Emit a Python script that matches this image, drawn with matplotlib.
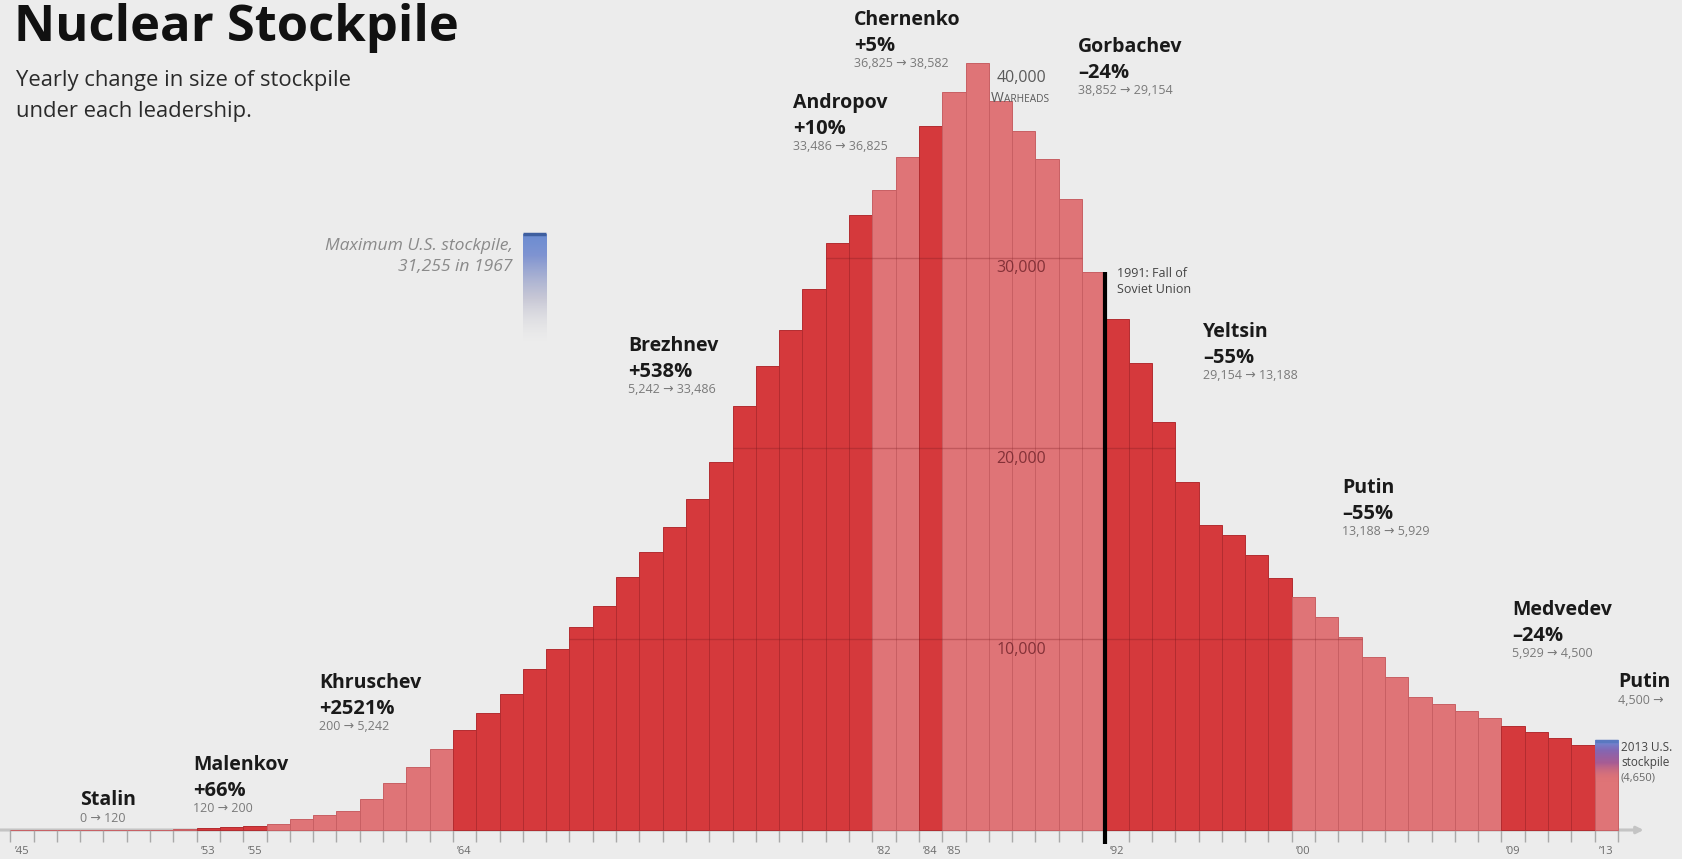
import numpy as np
import matplotlib.pyplot as plt

# Soviet / Russian warhead stockpile, one bar per year
years = list(range(1945, 2014))
warheads = [0, 0, 0, 0, 1, 5, 25, 50,                          # 1945-1952
            120, 150, 200,                                     # 1953-1955
            300, 560, 790, 1010, 1610, 2480, 3320, 4230,       # 1956-1963
            5240, 6120, 7110, 8420, 9470, 10660, 11740, 13280,
            14590, 15900, 17330, 19270, 22220, 24320, 26200,
            28340, 30750, 32230,                               # 1964-1981
            33540, 35260,                                      # 1982-1983
            36900,                                             # 1984
            38700, 40220, 38230, 36640, 35170, 33050, 29230,   # 1985-1991
            26780, 24460, 21380, 18220, 15990, 15460, 14410,
            13220,                                             # 1992-1999
            12200, 11150, 10100, 9070, 8040, 6990, 6600, 6240,
            5890,                                              # 2000-2008
            5470, 5150, 4800, 4450,                            # 2009-2012
            4500]                                              # 2013

leaders = ['Stalin', 'Malenkov', 'Khruschev', 'Brezhnev', 'Andropov', 'Chernenko',
           'Gorbachev', 'Yeltsin', 'Putin', 'Medvedev', 'Putin']
leader_start = [1945, 1953, 1956, 1964, 1982, 1984, 1985, 1992, 2000, 2009, 2013]
leader_pct = ['', '+66%', '+2521%', '+538%', '+10%', '+5%', '–24%', '–55%', '–55%', '–24%', '']
leader_range = ['0 → 120', '120 → 200', '200 → 5,242', '5,242 → 33,486', '33,486 → 36,825',
                '36,825 → 38,582', '38,852 → 29,154', '29,154 → 13,188', '13,188 → 5,929',
                '5,929 → 4,500', '4,500 →']

grid_values = [10000, 20000, 30000]
tick_labels = {1945: "’45", 1953: "’53", 1955: "’55", 1964: "’64", 1982: "’82", 1984: "’84",
               1985: "’85", 1992: "’92", 2000: "’00", 2009: "’09", 2013: "’13"}

us_max_year, us_max = 1967, 31255
us_2013 = 4650

# label anchor (pixel x, baseline y of the name)
label_pos = [(80, 805), (193, 770), (319, 688), (628, 351), (793, 108), (854, 25),
             (1078, 52), (1203, 337), (1342, 493), (1512, 615), (1618, 687)]

W, H = 1683, 859
X0, PX_YR = 1944.558, 23.3
BG = '#ececec'
DARK, LIGHT = '#d5393c', '#df7477'
DARK_EDGE, LIGHT_EDGE = '#b32c30', '#c85f63'
FONT = ['Open Sans', 'DejaVu Sans']

plt.rcParams['font.family'] = FONT

fig = plt.figure(figsize=(W / 100, H / 100), dpi=100)
fig.patch.set_facecolor(BG)
ax = fig.add_axes([0, 0, 1, 1])
ax.set_facecolor(BG)
ax.axis('off')

# colour each year by leadership, alternating light / dark
colors, edges = [], []
for y in years:
    idx = max(i for i, s in enumerate(leader_start) if s <= y)
    dark = idx % 2 == 1
    colors.append(DARK if dark else LIGHT)
    edges.append(DARK_EDGE if dark else LIGHT_EDGE)

ax.bar(years, warheads, width=1, align='edge', color=colors, edgecolor=edges,
       linewidth=0.7, zorder=2)

# grid lines only across the bars
for g in grid_values:
    for y, v in zip(years, warheads):
        if v > g:
            ax.hlines(g, y, y + 1, color='#7a1a20', alpha=0.3, lw=1, zorder=3)
    ax.annotate(f'{g:,}', xy=(1988.4, g), xytext=(0, -2), textcoords='offset points',
                ha='center', va='top', fontsize=11.5, color='#7a2a31', alpha=0.9, zorder=4)
ax.annotate('40,000', xy=(1988.4, 40000), xytext=(0, -2), textcoords='offset points',
            ha='center', va='top', fontsize=11.5, color='#5a5a5a', zorder=4)
ax.annotate('W', xy=(X0 + 991 / PX_YR, 40000), xytext=(0, -17.5), textcoords='offset points',
            ha='left', va='top', fontsize=10, color='#5a5a5a')
ax.annotate('ARHEADS', xy=(X0 + 1004 / PX_YR, 40000), xytext=(0, -19.5),
            textcoords='offset points', ha='left', va='top', fontsize=7.3, color='#5a5a5a')

# maximum U.S. stockpile marker
grad = np.linspace(0, 1, 200)
img = np.zeros((200, 1, 4))
stops1 = [(0.0, (0.85, 0.85, 0.86, 0.0)), (0.4, (0.72, 0.72, 0.80, 0.7)),
          (0.8, (0.50, 0.58, 0.82, 1.0)), (1.0, (0.42, 0.55, 0.82, 1.0))]
for ch in range(4):
    img[:, 0, ch] = np.interp(grad, [s[0] for s in stops1], [s[1][ch] for s in stops1])
ax.imshow(img, extent=[us_max_year, us_max_year + 1, us_max - 5600, us_max],
          origin='lower', aspect='auto', zorder=3, interpolation='bilinear')
ax.hlines(us_max, us_max_year, us_max_year + 1, color='#3f5f9f', lw=2.5, zorder=4)

# 2013 U.S. stockpile overlay on the last bar
img2 = np.zeros((200, 1, 4))
stops = [(0.0, (0.87, 0.45, 0.46, 0.0)), (0.45, (0.62, 0.35, 0.60, 0.85)),
         (0.75, (0.52, 0.40, 0.70, 1.0)), (1.0, (0.42, 0.56, 0.85, 1.0))]
for ch in range(4):
    img2[:, 0, ch] = np.interp(grad, [s[0] for s in stops], [s[1][ch] for s in stops])
ax.imshow(img2, extent=[2013, 2014, 2500, us_2013], origin='lower', aspect='auto',
          zorder=3, interpolation='bilinear')
ax.hlines(us_2013, 2013, 2014, color='#5a78c0', lw=2.5, zorder=4)

# fall of the Soviet Union
ax.vlines(1992, -750, warheads[years.index(1991)], color='black', lw=3, zorder=5)

# time axis
ax.annotate('', xy=(2015.1, 0), xytext=(1944.5, 0),
            arrowprops=dict(arrowstyle='-|>', color='#c4c4c4', lw=2.2,
                            mutation_scale=10, shrinkA=0, shrinkB=0), zorder=1)
for y in range(1945, 2015):
    ax.vlines(y, -650, 0, color='#a9a9a9', lw=1, zorder=1)
for y, lab in tick_labels.items():
    ax.text(y + 0.5, -1120, lab, ha='center', va='center', fontsize=8, color='#6a6a6a')

ax.set_xlim(X0, X0 + W / PX_YR)
ax.set_ylim(-(H - 830) / 0.01908, 830 / 0.01908)


def fx(x):
    return x / W


def fy(y):
    return 1 - y / H


# title block
fig.text(fx(14), fy(41), 'Nuclear Stockpile', fontsize=36.5, fontweight='bold',
         color='#111111', va='baseline')
fig.text(fx(16), fy(86), 'Yearly change in size of stockpile', fontsize=15.8,
         color='#2a2a2a', va='baseline')
fig.text(fx(16), fy(117), 'under each leadership.', fontsize=15.8,
         color='#2a2a2a', va='baseline')

fig.text(fx(513), fy(250), 'Maximum U.S. stockpile,', fontsize=12.6, style='italic',
         color='#8a8a8a', ha='right', va='baseline')
fig.text(fx(513), fy(271), '31,255 in 1967', fontsize=12.6, style='italic',
         color='#8a8a8a', ha='right', va='baseline')

# leader labels
for name, pct, rng, (x, y) in zip(leaders, leader_pct, leader_range, label_pos):
    fig.text(fx(x), fy(y), name, fontsize=14, fontweight='bold', color='#1a1a1a',
             va='baseline')
    if pct:
        fig.text(fx(x), fy(y + 26), pct, fontsize=14.5, fontweight='bold', color='#1a1a1a',
                 va='baseline')
        fig.text(fx(x), fy(y + 42), rng, fontsize=9, color='#7a7a7a', va='baseline')
    else:
        fig.text(fx(x), fy(y + 17), rng, fontsize=9, color='#7a7a7a', va='baseline')

fig.text(fx(1117), fy(277), '1991: Fall of', fontsize=9, color='#444444', va='baseline')
fig.text(fx(1117), fy(293), 'Soviet Union', fontsize=9, color='#444444', va='baseline')

fig.text(fx(1621), fy(751), '2013 U.S.', fontsize=8.5, color='#444444', va='baseline')
fig.text(fx(1621), fy(766), 'stockpile', fontsize=8.5, color='#444444', va='baseline')
fig.text(fx(1621), fy(780), '(4,650)', fontsize=8, color='#666666', va='baseline')

fig.savefig('out.png', dpi=100, facecolor=BG)
